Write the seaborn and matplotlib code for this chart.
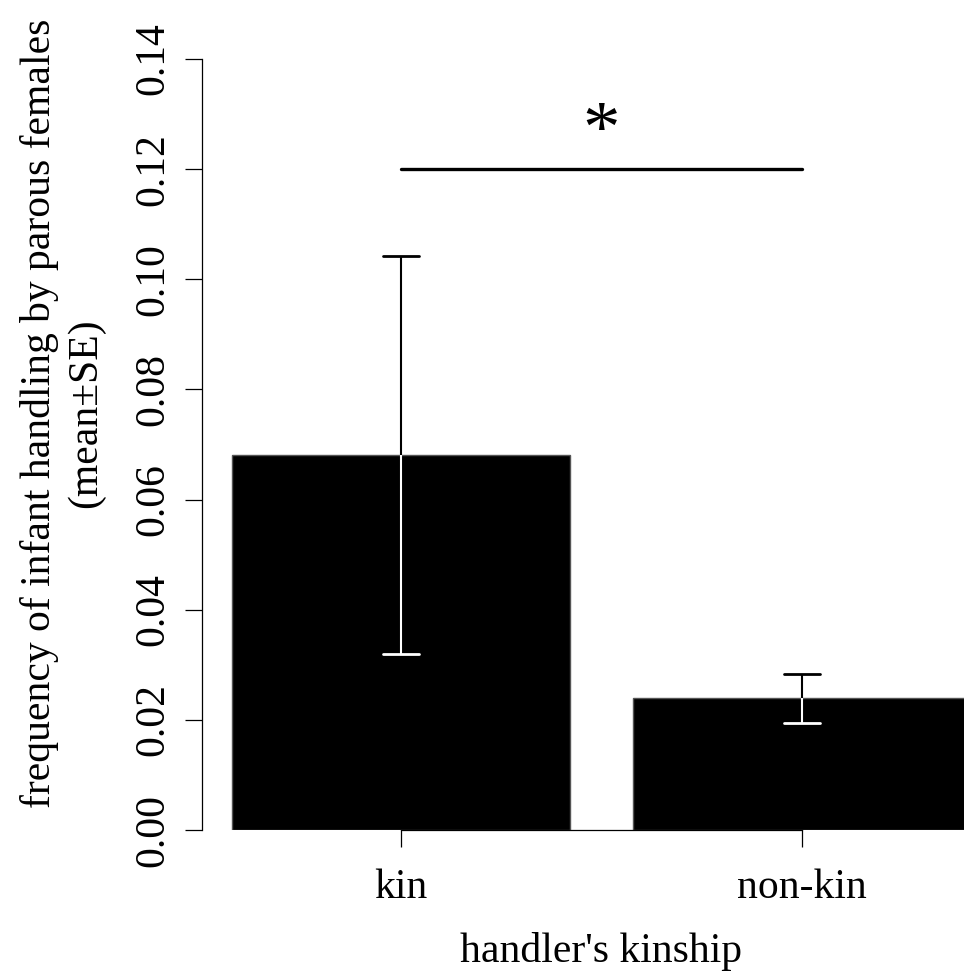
import matplotlib
matplotlib.use("Agg")
import matplotlib.pyplot as plt
import seaborn as sns
import pandas as pd

# Data: mean handling frequency and standard error per kinship class
categories = ["kin", "non-kin"]
means = [0.0681, 0.0239]
se = [0.0362, 0.0044]
sig_height = 0.12
yticks = [0.00, 0.02, 0.04, 0.06, 0.08, 0.10, 0.12, 0.14]

df = pd.DataFrame({"kinship": categories, "freq": means})

sns.set_theme(style="white")
plt.rcParams["font.family"] = ["Liberation Serif", "DejaVu Serif"]

W, H = 964, 971
fig = plt.figure(figsize=(W / 100, H / 100), dpi=100)
ax = fig.add_axes([202 / W, 141 / H, 762 / W, 771 / H])

sns.barplot(data=df, x="kinship", y="freq", color="black", width=0.843,
            edgecolor="#555555", linewidth=1, errorbar=None, ax=ax,
            saturation=1)

# Error bars: black above the bar top, white inside the bar
cap = 0.045
for i, (m, s) in enumerate(zip(means, se)):
    ax.plot([i, i], [m, m + s], color="black", lw=1.5, solid_capstyle="butt", zorder=3)
    ax.plot([i - cap, i + cap], [m + s, m + s], color="black", lw=2.0, zorder=3)
    ax.plot([i, i], [m - s, m], color="white", lw=1.5, solid_capstyle="butt", zorder=3)
    ax.plot([i - cap, i + cap], [m - s, m - s], color="white", lw=2.0, zorder=3)

# Significance bracket
ax.plot([0, 1], [sig_height, sig_height], color="black", lw=2.4, zorder=3)
ax.text(0.5, 0.1263, "*", ha="center", va="center", fontsize=54, color="black")

ax.set_xlim(-0.4963, 1.4040)
ax.set_ylim(0, 0.14)
ax.set_yticks(yticks)
ax.set_yticklabels([f"{t:.2f}" for t in yticks])
ax.set_xticks([0, 1])
ax.set_xticklabels(categories)

for side in ["top", "right"]:
    ax.spines[side].set_visible(False)
ax.spines["left"].set_bounds(0, 0.14)
ax.spines["bottom"].set_bounds(0, 1)
for sp in ["left", "bottom"]:
    ax.spines[sp].set_color("black")
    ax.spines[sp].set_linewidth(0.9)

ax.tick_params(axis="both", which="both", direction="out", length=12.2, width=0.9,
               color="black", labelsize=30, labelcolor="black")
ax.tick_params(axis="y", left=True, pad=9.4, labelrotation=90)
for lab in ax.get_yticklabels():
    lab.set_va("center")
ax.tick_params(axis="x", bottom=True, pad=15.8)

ax.set_ylabel("")
ax.set_xlabel("handler's kinship", fontsize=30, color="black")
ax.xaxis.set_label_coords(0.5236, (830 - 962) / 771)
ax.xaxis.label.set_va("baseline")

# Two-line y label, each line anchored on its baseline
ylab_y = 1 - 413 / H
fig.text(50 / W, ylab_y, "frequency of infant handling by parous females",
         rotation=90, rotation_mode="anchor", ha="center", va="baseline",
         fontsize=30, color="black")
fig.text(96 / W, ylab_y, "(mean±SE)",
         rotation=90, rotation_mode="anchor", ha="center", va="baseline",
         fontsize=30, color="black")

fig.savefig("out.png", dpi=100, facecolor="white")
